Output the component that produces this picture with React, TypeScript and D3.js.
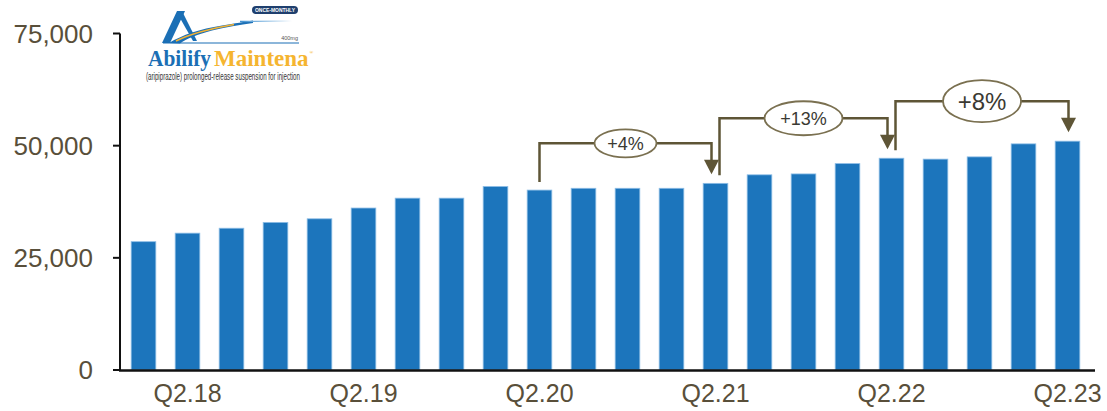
import React from "react";
import * as d3 from "d3";

const quarters = [
  "Q1.18", "Q2.18", "Q3.18", "Q4.18",
  "Q1.19", "Q2.19", "Q3.19", "Q4.19",
  "Q1.20", "Q2.20", "Q3.20", "Q4.20",
  "Q1.21", "Q2.21", "Q3.21", "Q4.21",
  "Q1.22", "Q2.22", "Q3.22", "Q4.22",
  "Q1.23", "Q2.23",
];
const values = [
  28600, 30500, 31600, 32900,
  33700, 36100, 38300, 38300,
  40900, 40100, 40500, 40500,
  40500, 41600, 43500, 43700,
  46000, 47200, 47000, 47500,
  50400, 51000,
];
const shownLabels = ["Q2.18", "Q2.19", "Q2.20", "Q2.21", "Q2.22", "Q2.23"];
const yTicks = [0, 25000, 50000, 75000];
const growthFrom = ["Q2.20", "Q2.21", "Q2.22"];
const growthTo = ["Q2.21", "Q2.22", "Q2.23"];
const growthLabels = ["+4%", "+13%", "+8%"];

const W = 1107;
const H = 411;
const FONT = "'Liberation Sans', Arial, Helvetica, sans-serif";
const TEXT_COLOR = "#594f3a";
const BAR = "#1c75bc";
const BRACKET = "#5e5536";

export default function App() {
  const x = d3
    .scaleBand<string>()
    .domain(quarters)
    .range([121.5, 1089.5])
    .paddingInner(0.44)
    .paddingOuter(0.22);
  const y = d3.scaleLinear().domain([0, 75000]).range([370, 33.5]);
  const fmt = d3.format(",");
  const bw = x.bandwidth();
  const cx = (q: string) => (x(q) as number) + bw / 2;
  const val = (q: string) => values[quarters.indexOf(q)];

  const ellipseSize: Record<string, [number, number, number]> = {
    "+4%": [31, 14, 18],
    "+13%": [39, 17, 18],
    "+8%": [39, 21, 24],
  };

  return (
    <svg
      width={W}
      height={H}
      style={{ position: "absolute", left: 0, top: 0, background: "#fff" }}
      fontFamily={FONT}
    >
      <defs>
        <linearGradient id="tail" x1="0" x2="1" y1="0" y2="0">
          <stop offset="0" stopColor="#3d8fd0" />
          <stop offset="1" stopColor="#ffffff" />
        </linearGradient>
      </defs>

      {/* bars */}
      {quarters.map((q, i) => (
        <rect
          key={q}
          x={x(q)}
          y={y(values[i])}
          width={bw}
          height={y(0) - y(values[i])}
          fill={BAR}
          stroke="#8dbde6"
          strokeWidth={0.8}
        />
      ))}

      {/* axes */}
      <line x1={120} x2={120} y1={33.5} y2={371} stroke="#111" strokeWidth={2} />
      <line x1={119} x2={1095} y1={370.5} y2={370.5} stroke="#111" strokeWidth={2.5} />
      {yTicks.map((t) => (
        <g key={t}>
          <line x1={113} x2={120} y1={y(t)} y2={y(t)} stroke="#111" strokeWidth={2} />
          <text
            x={93}
            y={y(t)}
            dy="0.36em"
            textAnchor="end"
            fontSize={26}
            fill={TEXT_COLOR}
          >
            {fmt(t)}
          </text>
        </g>
      ))}
      {shownLabels.map((q) => (
        <text
          key={q}
          x={cx(q)}
          y={402}
          textAnchor="middle"
          fontSize={25}
          fill={TEXT_COLOR}
        >
          {q}
        </text>
      ))}

      {/* growth brackets */}
      {growthLabels.map((lab, k) => {
        const fromQ = growthFrom[k];
        const toQ = growthTo[k];
        const startOff = growthTo.includes(fromQ) ? 4 : 0;
        const endOff = growthFrom.includes(toQ) ? -4 : 1;
        const x0 = cx(fromQ) + startOff;
        const x1 = cx(toQ) + endOff;
        const level = y(val(toQ)) - 40;
        const y0 = y(val(fromQ)) - 8;
        const tip = y(val(toQ)) - 9;
        const headH = 14.5;
        const headW = 7.5;
        const [rx, ry, fs] = ellipseSize[lab];
        const mx = (x0 + x1) / 2;
        return (
          <g key={lab}>
            <path
              d={`M${x0},${y0} V${level} H${x1} V${tip - headH + 1}`}
              fill="none"
              stroke={BRACKET}
              strokeWidth={2.5}
            />
            <path
              d={`M${x1 - headW},${tip - headH} L${x1 + headW},${tip - headH} L${x1},${tip} Z`}
              fill={BRACKET}
            />
            <ellipse
              cx={mx}
              cy={level}
              rx={rx}
              ry={ry}
              fill="#fff"
              stroke="#7a7050"
              strokeWidth={1.8}
            />
            <text
              x={mx}
              y={level}
              dy="0.36em"
              textAnchor="middle"
              fontSize={fs}
              fill="#3b3a33"
            >
              {lab}
            </text>
          </g>
        );
      })}

      {/* logo */}
      <g>
        <path d="M162,43 L177,11 L185,11 L170,43 Z" fill="#1b6fb5" />
        <path d="M183,13 L197,41 L193,41 L180,18 Z" fill="#1b6fb5" />
        <path
          d="M169,43 C182,35 200,29 222,25.5 C235,23.5 245,21.5 253,20.5 L253,23 C240,24.5 225,27.5 212,30.5 C198,34 186,39 180,43.5 Z"
          fill="#1b6fb5"
        />
        <path
          d="M176,41 C190,34 208,29 234,24.5"
          fill="none"
          stroke="#f3b233"
          strokeWidth={1.6}
        />
        <line x1={240} x2={292} y1={21.5} y2={21} stroke="url(#tail)" strokeWidth={1.4} />
        <line x1={163} x2={299} y1={43} y2={43} stroke="#1b6fb5" strokeWidth={1.2} />
        <rect x={252} y={6} width={46} height={8} rx={4} fill="#1f3f6e" />
        <text
          x={275}
          y={12.3}
          textAnchor="middle"
          fontSize={6}
          fontWeight="bold"
          fill="#fff"
          textLength={40}
          lengthAdjust="spacingAndGlyphs"
        >
          ONCE-MONTHLY
        </text>
        <text x={298} y={40} textAnchor="end" fontSize={5.5} fill="#555">
          400mg
        </text>
        <text
          x={148}
          y={66}
          fontSize={23}
          fontWeight="bold"
          fontFamily="'Liberation Serif', 'DejaVu Serif', serif"
          fill="#1b6fb5"
          textLength={63}
          lengthAdjust="spacingAndGlyphs"
        >
          Abilify
        </text>
        <text
          x={214}
          y={66}
          fontSize={23}
          fontWeight="bold"
          fontFamily="'Liberation Serif', 'DejaVu Serif', serif"
          fill="#f5b530"
        >
          Maintena
          <tspan fontSize={5} dx={1} dy={-12}>®</tspan>
        </text>
        <text
          x={146}
          y={80}
          fontSize={10}
          fill="#333"
          textLength={154}
          lengthAdjust="spacingAndGlyphs"
        >
          (aripiprazole) prolonged-release suspension for injection
        </text>
      </g>
    </svg>
  );
}
